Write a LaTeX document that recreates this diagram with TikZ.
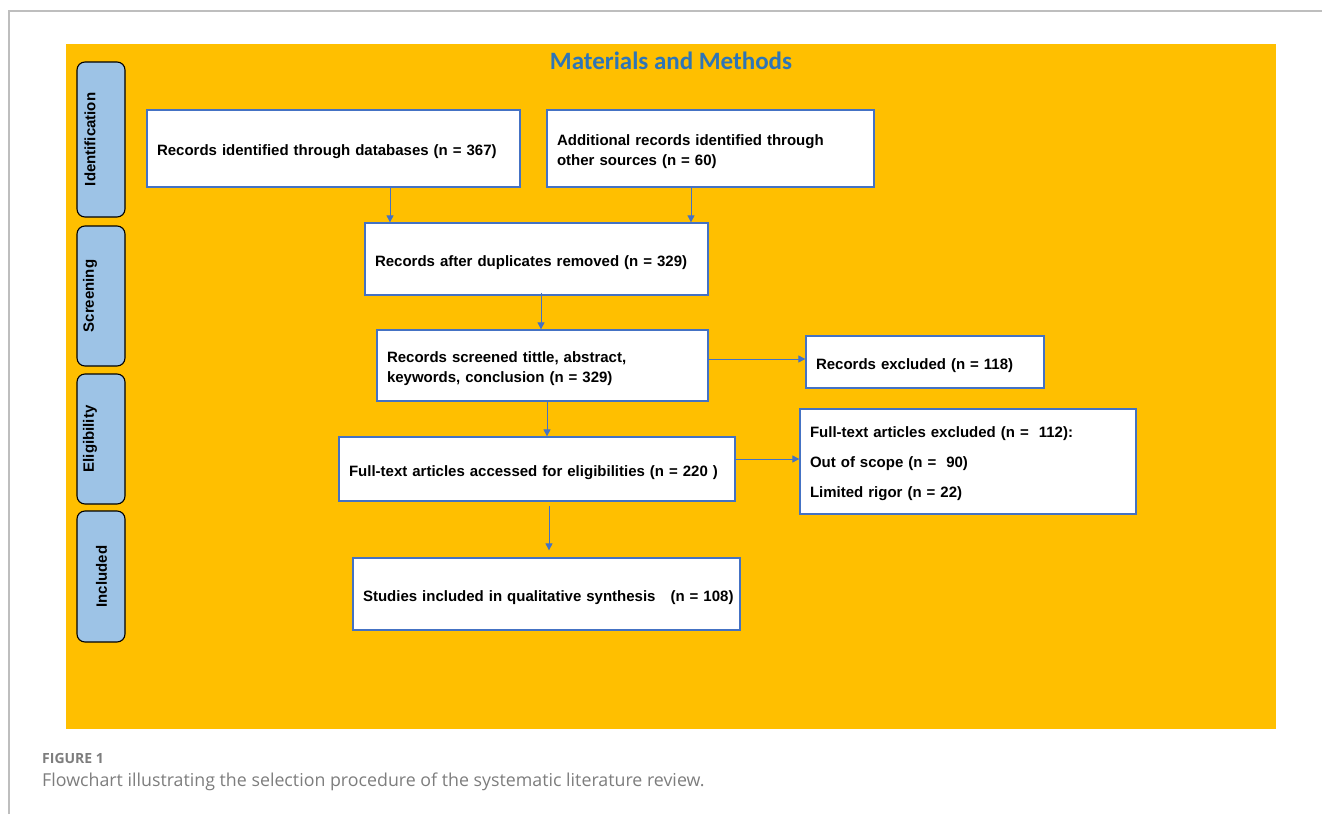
\documentclass[tikz,border=0pt]{standalone}
\usepackage{fontspec}
\setmainfont{Liberation Sans}
\newfontfamily\titlefont{Carlito}
\newfontfamily\capfont{Open Sans}
\usetikzlibrary{arrows.meta}
\definecolor{amber}{RGB}{255,191,0}
\definecolor{lanefill}{RGB}{157,195,230}
\definecolor{titleblue}{RGB}{46,117,182}
\definecolor{boxblue}{RGB}{68,114,196}
\definecolor{framegray}{RGB}{190,190,190}
\definecolor{capgray}{RGB}{125,125,125}
\newcommand\lowr[1]{\rule{0pt}{#1}}
\tikzset{
  lanebox/.style={draw=black, line width=1.1pt, fill=lanefill, rounded corners=8pt, minimum width=48pt, inner sep=0pt},
  lanetext/.style={rotate=90, font=\bfseries\fontsize{15}{18}\selectfont, inner sep=0pt},
  flowbox/.style={draw=boxblue, line width=1.3pt, fill=white, inner xsep=10pt, inner ysep=0pt, align=left, font=\bfseries\fontsize{15}{20}\selectfont},
  arr/.style={draw=boxblue, line width=0.9pt, -{Triangle[length=7pt,width=7pt]}},
}
\begin{document}
\begin{tikzpicture}[x=1pt,y=-1pt]
\useasboundingbox (0,0) rectangle (1322,814);
\draw[framegray, line width=2pt] (9,814) -- (9,11) -- (1322,11);
\fill[amber] (66,44) rectangle (1276,729);

\node[font=\titlefont\bfseries\fontsize{25}{30}\selectfont, text=titleblue] (title) at (671,61) {Materials and Methods};

% lanes
\node[lanebox, minimum height=155pt] (l1) at (101,139.5) {};
\node[lanebox, minimum height=140pt] (l2) at (101,296) {};
\node[lanebox, minimum height=130pt] (l3) at (101,439) {};
\node[lanebox, minimum height=131pt] (l4) at (101,576.5) {};
\node[lanetext] (t1) at (90,139.5) {Identification};
\node[lanetext] (t2) at (90,296) {Screening};
\node[lanetext] (t3) at (90,439) {Eligibility};
\node[lanetext] (t4) at (101.5,576.5) {Included};

% boxes
\node[flowbox, text width=353pt, minimum height=77pt] (b1) at (333.5,148.5) {\lowr{18pt}Records identified through databases (n = 367)};
\node[flowbox, text width=307pt, minimum height=77pt] (b2) at (710.5,148.5) {\lowr{17pt}Additional records identified through\\other sources (n = 60)};
\node[flowbox, text width=323pt, minimum height=72pt] (b3) at (536.5,259) {\lowr{18pt}Records after duplicates removed (n = 329)};
\node[flowbox, text width=311pt, minimum height=71pt] (b4) at (542.5,365.5) {\lowr{17pt}Records screened tittle, abstract,\\keywords, conclusion (n = 329)};
\node[flowbox, text width=218pt, minimum height=52pt] (b5) at (925,362) {\lowr{18pt}Records excluded (n = 118)};
\node[flowbox, text width=376pt, minimum height=64pt] (b6) at (537,469) {\lowr{18pt}Full-text articles accessed for eligibilities (n = 220 )};
\node[flowbox, text width=316pt, minimum height=105pt, font=\bfseries\fontsize{15}{30}\selectfont] (b7) at (968,461.5) {\lowr{15pt}Full-text articles excluded (n =\ \ 112):\\Out of scope (n =\ \ 90)\\Limited rigor (n = 22)};
\node[flowbox, text width=367pt, minimum height=72pt] (b8) at (546.5,594) {\lowr{18pt}\mbox{Studies included in qualitative synthesis\ \ \ (n = 108)}};

% connectors
\draw[arr] ([xshift=56.5pt]b1.south) -- ([xshift=56.5pt]b1.south |- b3.north);
\draw[arr] ([xshift=-19.5pt]b2.south) -- ([xshift=-19.5pt]b2.south |- b3.north);
\draw[arr] ([xshift=4.5pt,yshift=3pt]b3.south) -- ([xshift=4.5pt]b3.south |- b4.north);
\draw[arr] ([xshift=4.5pt]b4.south) -- ([xshift=4.5pt]b4.south |- b6.north);
\draw[arr] ([yshift=6.5pt]b4.east) -- ([yshift=6.5pt]b4.east -| b5.west);
\draw[arr] ([yshift=10pt]b6.east) -- ([yshift=10pt]b6.east -| b7.west);
\coordinate (e8) at ([xshift=2.5pt,yshift=11pt]b8.north);
\draw[arr] ([xshift=12pt,yshift=-4pt]b6.south) -- ([xshift=12pt,yshift=-4pt]b6.south |- e8);

% caption
\node[anchor=base west, inner sep=0pt, font=\capfont\bfseries\fontsize{14}{16}\selectfont, text=capgray] (fig) at (42,763) {FIGURE 1};
\node[anchor=base west, inner sep=0pt, font=\capfont\fontsize{17.8}{20}\selectfont, text=capgray] (cap) at (42,786) {Flowchart illustrating the selection procedure of the systematic literature review.};
\end{tikzpicture}
\end{document}
